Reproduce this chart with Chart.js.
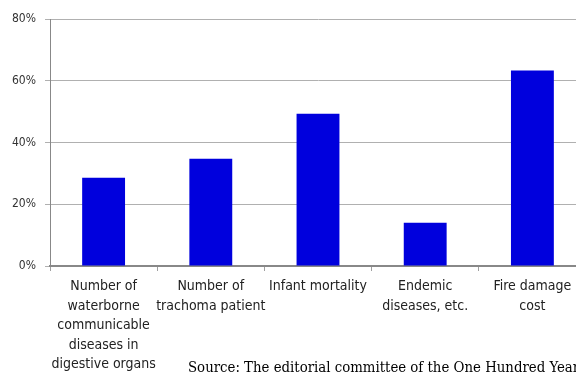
<!DOCTYPE html>
<html>
<head>
<meta charset="utf-8">
<script src="https://cdn.jsdelivr.net/npm/chart.js@4.4.1/dist/chart.umd.min.js"></script>
<style>
  html, body { margin: 0; padding: 0; background: #fff; overflow: hidden; }
  #wrap { position: relative; width: 576px; height: 374px; overflow: hidden; }
  #chartBox { position: absolute; left: 0; top: 0; width: 600px; height: 374px; }
  #source {
    position: absolute; left: 188px; top: 360px; white-space: nowrap;
    font-family: "DejaVu Serif Condensed", "DejaVu Serif", serif;
    font-size: 14.8px; line-height: 14.8px; color: #000;
  }
</style>
</head>
<body>
<div id="wrap">
  <div id="chartBox"><canvas id="chart" width="600" height="374"></canvas></div>
  <div id="source">Source: The editorial committee of the One Hundred Years</div>
</div>
<script>
const categories = [
  ["Number of", "waterborne", "communicable", "diseases in", "digestive organs"],
  ["Number of", "trachoma patient"],
  ["Infant mortality"],
  ["Endemic", "diseases, etc."],
  ["Fire damage", "cost"],
];
const values = [28.6, 34.7, 49.3, 14.0, 63.3];
const yTicks = [0, 20, 40, 60, 80];

const labelFont = "'DejaVu Sans Condensed', 'DejaVu Sans', sans-serif";

const ctx = document.getElementById("chart").getContext("2d");

let chart = new Chart(ctx, {
  type: "bar",
  data: {
    labels: categories,
    datasets: [
      {
        data: values,
        backgroundColor: "#0000dd",
        borderWidth: 0,
        barPercentage: 0.4,
        categoryPercentage: 1.0,
      },
    ],
  },
  options: {
    responsive: false,
    animation: false,
    layout: { padding: { top: 19, right: 14, left: 0, bottom: 0 } },
    plugins: {
      legend: { display: false },
      tooltip: { enabled: false },
    },
    scales: {
      x: {
        afterFit: (scale) => { scale.height = 108; },
        grid: {
          offset: true,
          drawOnChartArea: false,
          tickLength: 5,
          color: "#a0a0a0",
        },
        border: { color: "#888888", width: 2 },
        ticks: {
          color: "#222",
          padding: 6,
          maxRotation: 0,
          autoSkip: false,
          font: { family: labelFont, size: 14, lineHeight: 1.39 },
        },
      },
      y: {
        min: 0,
        max: 80,
        afterFit: (scale) => { scale.width = 50; },
        afterBuildTicks: (scale) => { scale.ticks = yTicks.map(v => ({ value: v })); },
        grid: { color: "#b0b0b0", tickLength: 5 },
        border: { color: "#888888", width: 1 },
        ticks: {
          color: "#333",
          padding: 9,
          font: { family: labelFont, size: 12 },
          callback: (v) => v + "%",
        },
      },
    },
  },
});
</script>
</body>
</html>
